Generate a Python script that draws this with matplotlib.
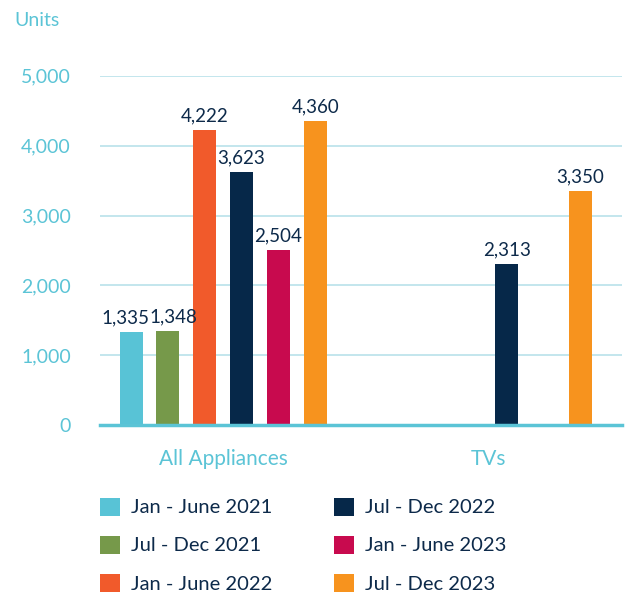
"""Bar chart: appliance units sold per half-year period."""

import matplotlib
matplotlib.use("Agg")
import matplotlib.pyplot as plt
from matplotlib.patches import Patch
import numpy as np

CATEGORIES = ["All Appliances", "TVs"]
PERIODS = [
    "Jan - June 2021",
    "Jul - Dec 2021",
    "Jan - June 2022",
    "Jul - Dec 2022",
    "Jan - June 2023",
    "Jul - Dec 2023",
]
# units per period, one list per category (nan = no data)
ALL_APPLIANCES = [1335, 1348, 4222, 3623, 2504, 4360]
TVS = [np.nan, np.nan, np.nan, 2313, np.nan, 3350]

COLORS = ["#58c3d6", "#76994a", "#f15a2b", "#062849", "#c80a4e", "#f7931e"]
TICK_COLOR = "#5bc4d6"
LABEL_COLOR = "#0d2a4a"

plt.rcParams["font.family"] = ["Lato", "DejaVu Sans"]

fig = plt.figure(figsize=(6.26, 5.97), dpi=100)
ax = fig.add_axes([0.16, 0.288, 0.834, 0.585])

values = np.array([ALL_APPLIANCES, TVS])  # shape (cats, periods)
x = np.arange(len(CATEGORIES))
width = 0.087
step = 0.139
offsets = (np.arange(len(PERIODS)) - 2.5) * step

# small horizontal nudges (points) so neighbouring labels don't collide
nudge = {(0, 0): -4, (0, 1): 4}

for i, (period, color) in enumerate(zip(PERIODS, COLORS)):
    vals = values[:, i]
    ax.bar(x + offsets[i], vals, width=width, color=color, zorder=3)
    for ci, (xi, v) in enumerate(zip(x, vals)):
        if np.isnan(v):
            continue
        ax.annotate(f"{int(v):,}", (xi + offsets[i], v),
                    xytext=(nudge.get((ci, i), 0), 4),
                    textcoords="offset points", ha="center", va="bottom",
                    fontsize=13.5, color=LABEL_COLOR, zorder=4)

ax.set_xlim(-0.464, 1.506)
ax.set_ylim(0, 5000)
ax.set_yticks(np.arange(0, 5001, 1000))
ax.set_yticklabels([f"{int(t):,}" for t in np.arange(0, 5001, 1000)])
ax.set_xticks(x)
ax.set_xticklabels(CATEGORIES)
ax.tick_params(axis="y", length=0, pad=21, labelsize=14, labelcolor=TICK_COLOR)
ax.tick_params(axis="x", length=0, pad=17, labelsize=15, labelcolor=TICK_COLOR)

ax.grid(axis="y", color="#b9e1ea", linewidth=1.2, zorder=0)
for side in ["top", "right", "left"]:
    ax.spines[side].set_visible(False)
ax.spines["bottom"].set_color(TICK_COLOR)
ax.spines["bottom"].set_linewidth(2.5)
ax.spines["bottom"].set_zorder(5)

fig.text(14 / 626, 1 - 21 / 597, "Units", fontsize=14, color=TICK_COLOR,
         ha="left", va="center")

handles = [Patch(facecolor=c, edgecolor="none") for c in COLORS]
fig.legend(handles, PERIODS, ncol=2, loc="upper left",
           bbox_to_anchor=(0.130, 0.197), frameon=False, fontsize=14.5,
           handlelength=1.0, handleheight=1.0, handletextpad=0.55,
           columnspacing=3.05, labelspacing=0.95, labelcolor=LABEL_COLOR)

fig.savefig("out.png", dpi=100)
